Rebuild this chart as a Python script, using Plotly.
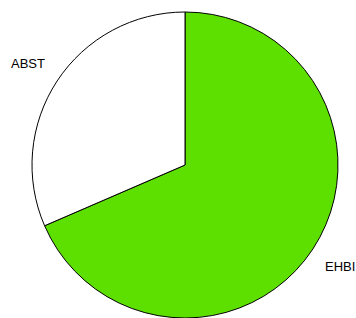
import math
import plotly.graph_objects as go

labels = ["EHBI", "ABST"]
values = [68.5, 31.5]
colors = ["#5DE000", "#FFFFFF"]

W, H = 356, 318
cx, cy, R = 185, 165, 153  # pixel center / radius of the pie

fig = go.Figure(go.Pie(
    labels=labels, values=values, sort=False, direction="clockwise", rotation=0,
    marker=dict(colors=colors, line=dict(color="black", width=1)),
    textinfo="none", hoverinfo="label+percent", showlegend=False,
    domain=dict(x=[(cx - R) / W, (cx + R) / W], y=[1 - (cy + R) / H, 1 - (cy - R) / H]),
))

# labels placed outside each slice at its mid angle (clockwise from 12 o'clock)
total = sum(values)
start = 0.0
annotations = []
for lab, v in zip(labels, values):
    mid = (start + v / 2) / total * 2 * math.pi
    start += v
    dx = math.sin(mid) * R * 1.08
    dy = math.cos(mid) * R * 1.21
    px, py = cx + dx, cy - dy
    annotations.append(dict(
        x=px / W, y=1 - py / H, xref="paper", yref="paper", text=lab, showarrow=False,
        xanchor="left" if dx > 0 else "right", yanchor="middle",
        font=dict(family="Liberation Sans, Arial", size=13, color="black"),
    ))

fig.update_layout(
    width=W, height=H, margin=dict(l=0, r=0, t=0, b=0),
    paper_bgcolor="white", plot_bgcolor="white", annotations=annotations,
)
fig.write_html(
    "out.html",
    config={"displayModeBar": False},
    post_script="document.body.style.margin='0';document.body.style.overflow='hidden';",
)
